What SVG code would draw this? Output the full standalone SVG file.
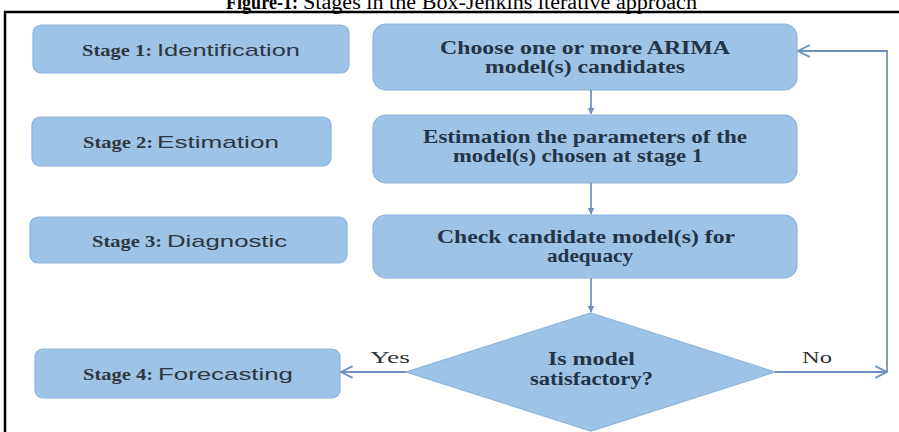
<svg xmlns="http://www.w3.org/2000/svg" width="899" height="432" viewBox="0 0 899 432">
<style>
.bg{fill:#ffffff}
.box{fill:#9dc3e6;stroke:#8cb3da;stroke-width:1.2}
.stageB{font-family:"Liberation Serif","Times New Roman",serif;font-weight:bold;font-size:17px;fill:#2e3640}
.stageS{font-family:"Liberation Sans",Arial,sans-serif;font-size:17px;fill:#2e3640}
.btxt{font-family:"Liberation Serif","Times New Roman",serif;font-weight:bold;font-size:18px;fill:#243447}
.lbl{font-family:"Liberation Serif","Times New Roman",serif;font-size:17px;fill:#333333}
.title{font-family:"Liberation Serif","Times New Roman",serif;font-size:20px;fill:#000000}
.conn{fill:none;stroke:#6f93bf;stroke-width:1.8}
</style>
<defs>
<marker id="tri" viewBox="0 0 10 10" refX="9" refY="5" markerWidth="7" markerHeight="7" markerUnits="userSpaceOnUse" orient="auto">
<path d="M0,0 L10,5 L0,10 z" fill="#6f93bf"/>
</marker>
<marker id="open" viewBox="0 0 12 12" refX="11" refY="6" markerWidth="14" markerHeight="14" markerUnits="userSpaceOnUse" orient="auto">
<path d="M1,1 L11,6 L1,11" fill="none" stroke="#6f93bf" stroke-width="1.6"/>
</marker>
</defs>
<rect class="bg" x="0" y="0" width="899" height="432"/>
<g id="title">
<text class="title" x="226" y="9" font-weight="bold" textLength="72" lengthAdjust="spacingAndGlyphs">Figure-1:</text>
<text class="title" x="303" y="9" textLength="394" lengthAdjust="spacingAndGlyphs">Stages in the Box-Jenkins iterative approach</text>
</g>
<g id="frame">
<path d="M5,432 V12 H899" fill="none" stroke="#000000" stroke-width="2.5"/>
</g>
<g id="stage1">
<rect class="box" x="33" y="25" width="316" height="48" rx="8"/>
<text class="stageB" x="82" y="56" textLength="70" lengthAdjust="spacingAndGlyphs">Stage 1:</text>
<text class="stageS" x="157" y="56" textLength="143" lengthAdjust="spacingAndGlyphs">Identification</text>
</g>
<g id="stage2">
<rect class="box" x="32" y="117" width="299" height="49" rx="8"/>
<text class="stageB" x="83" y="148" textLength="70" lengthAdjust="spacingAndGlyphs">Stage 2:</text>
<text class="stageS" x="157" y="148" textLength="122" lengthAdjust="spacingAndGlyphs">Estimation</text>
</g>
<g id="stage3">
<rect class="box" x="30" y="217" width="317" height="46" rx="8"/>
<text class="stageB" x="92" y="247" textLength="70" lengthAdjust="spacingAndGlyphs">Stage 3:</text>
<text class="stageS" x="167" y="247" textLength="120" lengthAdjust="spacingAndGlyphs">Diagnostic</text>
</g>
<g id="stage4">
<rect class="box" x="35" y="349" width="305" height="49" rx="8"/>
<text class="stageB" x="83" y="380" textLength="70" lengthAdjust="spacingAndGlyphs">Stage 4:</text>
<text class="stageS" x="158" y="380" textLength="135" lengthAdjust="spacingAndGlyphs">Forecasting</text>
</g>
<g id="choose">
<rect class="box" x="373" y="24" width="424" height="66" rx="13"/>
<text class="btxt" x="440" y="54" textLength="290" lengthAdjust="spacingAndGlyphs">Choose one or more ARIMA</text>
<text class="btxt" x="485" y="73" textLength="200" lengthAdjust="spacingAndGlyphs">model(s) candidates</text>
</g>
<g id="estimate">
<rect class="box" x="373" y="115" width="424" height="68" rx="13"/>
<text class="btxt" x="423" y="143" textLength="324" lengthAdjust="spacingAndGlyphs">Estimation the parameters of the</text>
<text class="btxt" x="453" y="162" textLength="250" lengthAdjust="spacingAndGlyphs">model(s) chosen at stage 1</text>
</g>
<g id="check">
<rect class="box" x="373" y="215" width="424" height="63" rx="13"/>
<text class="btxt" x="437" y="243" textLength="298" lengthAdjust="spacingAndGlyphs">Check candidate model(s) for</text>
<text class="btxt" x="547" y="262" textLength="86" lengthAdjust="spacingAndGlyphs">adequacy</text>
</g>
<g id="decision">
<polygon class="box" points="591,313 775,372 591,431 406,372"/>
<text class="btxt" x="548" y="365" textLength="87" lengthAdjust="spacingAndGlyphs">Is model</text>
<text class="btxt" x="530" y="385" textLength="123" lengthAdjust="spacingAndGlyphs">satisfactory?</text>
</g>
<g id="connectors">
<line class="conn" x1="591" y1="90" x2="591" y2="114" marker-end="url(#tri)"/>
<line class="conn" x1="591" y1="183" x2="591" y2="214" marker-end="url(#tri)"/>
<line class="conn" x1="591" y1="278" x2="591" y2="312" marker-end="url(#tri)"/>
<line class="conn" x1="406" y1="372" x2="341" y2="372" marker-end="url(#open)"/>
<line class="conn" x1="775" y1="372" x2="887" y2="372" marker-end="url(#open)"/>
<path class="conn" d="M887,372 V51 H798" marker-end="url(#open)"/>
<text class="lbl" x="370" y="363" textLength="40" lengthAdjust="spacingAndGlyphs">Yes</text>
<text class="lbl" x="802" y="363" textLength="30" lengthAdjust="spacingAndGlyphs">No</text>
</g>
</svg>
